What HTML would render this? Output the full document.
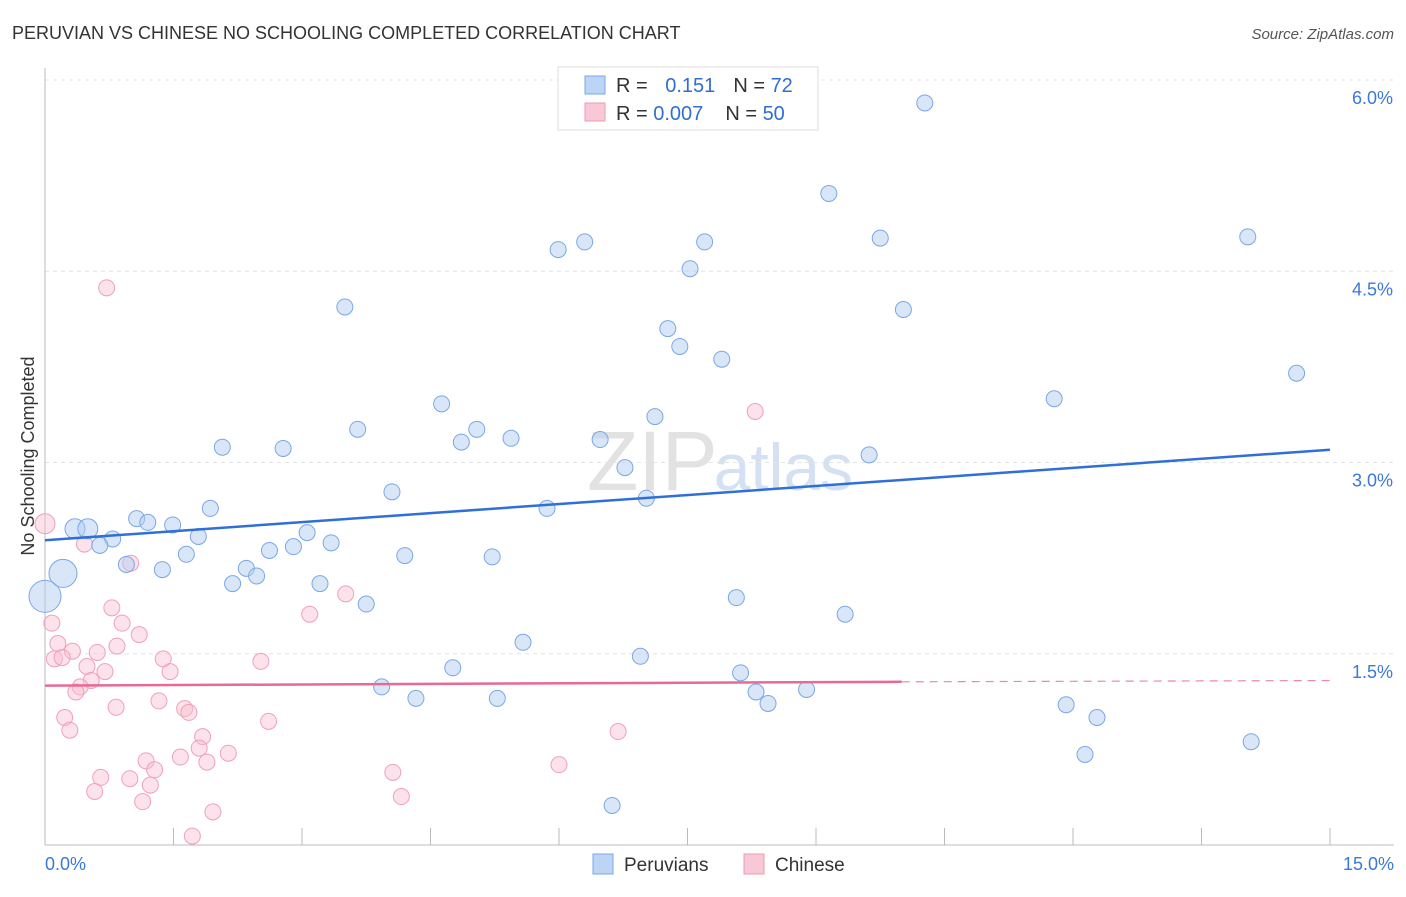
<!DOCTYPE html>
<html><head><meta charset="utf-8"><style>
body{margin:0;background:#fff;font-family:"Liberation Sans",sans-serif;}
svg text{font-family:"Liberation Sans",sans-serif;}
</style></head><body>
<svg id="chart" width="1406" height="892" xmlns="http://www.w3.org/2000/svg">
<text x="12" y="39" font-size="18" fill="#333">PERUVIAN VS CHINESE NO SCHOOLING COMPLETED CORRELATION CHART</text>
<text x="1394" y="39" font-size="15" fill="#555" font-style="italic" text-anchor="end">Source: ZipAtlas.com</text>
<text x="720" y="490" font-size="84" fill="#e2e2e2" font-family="Liberation Serif" text-anchor="middle">ZIP<tspan fill="#d3e1f3" font-family="Liberation Sans" font-size="66" dx="-4">atlas</tspan></text>
<g id="grid"></g><g id="axes"></g><g id="marks"></g>
<text transform="translate(34,456) rotate(-90)" font-size="18" fill="#333" text-anchor="middle">No Schooling Completed</text>
<g>
<rect x="558" y="67" width="260" height="63" fill="#fff" stroke="#ddd"/>
<rect x="585" y="76" width="20" height="18" fill="#bcd4f5" stroke="#7aa7e6"/>
<text x="616" y="92" font-size="20" fill="#333">R = <tspan fill="#2f6fd0" dx="12">0.151</tspan><tspan dx="18">N = </tspan><tspan fill="#2f6fd0">72</tspan></text>
<rect x="585" y="103" width="20" height="18" fill="#f8c8d6" stroke="#ee9ab5"/>
<text x="616" y="120" font-size="20" fill="#333">R = <tspan fill="#2f6fd0">0.007</tspan><tspan dx="22">N = </tspan><tspan fill="#2f6fd0">50</tspan></text>
</g>
<g><rect x="593" y="854" width="20" height="20" fill="#bcd4f5" stroke="#7aa7e6"/><text x="624" y="871" font-size="19" fill="#333">Peruvians</text></g>
<g><rect x="744" y="854" width="20" height="20" fill="#f8c8d6" stroke="#ee9ab5"/><text x="775" y="871" font-size="19" fill="#333">Chinese</text></g>
</svg>
<script>
const yTicks=[1.5,3.0,4.5,6.0];
const xTickLabels=["0.0%","15.0%"];
const bluex=[10.27,9.15,9.75,14.04,5.99,6.30,7.70,7.53,3.50,10.02,7.27,7.41,7.90,14.61,11.78,4.63,7.12,3.65,5.04,4.86,5.44,6.48,2.07,2.78,9.62,6.77,4.05,7.02,5.86,1.93,1.07,1.20,1.49,0.35,0.50,3.06,0.79,1.79,0.64,3.34,2.90,2.62,1.65,4.20,5.22,0.95,1.37,2.35,2.47,0.21,2.19,3.21,0.0,3.75,8.07,9.34,5.58,6.95,4.76,8.12,3.93,8.30,8.89,4.33,5.28,8.44,11.92,12.28,14.08,12.14,6.62];
const bluey=[5.82,5.11,4.76,4.77,4.67,4.73,4.73,4.52,4.22,4.20,4.05,3.91,3.81,3.70,3.50,3.46,3.36,3.26,3.26,3.16,3.19,3.18,3.12,3.11,3.06,2.96,2.77,2.72,2.64,2.64,2.56,2.53,2.51,2.48,2.48,2.45,2.40,2.42,2.35,2.37,2.34,2.31,2.28,2.27,2.26,2.20,2.16,2.17,2.11,2.13,2.05,2.05,1.95,1.89,1.94,1.81,1.59,1.48,1.39,1.35,1.24,1.20,1.22,1.15,1.15,1.11,1.10,1.00,0.81,0.71,0.31];
const bluer=[8,8,8,8,8,8,8,8,8,8,8,8,8,8,8,8,8,8,8,8,8,8,8,8,8,8,8,8,8,8,8,8,8,10,10,8,8,8,8,8,8,8,8,8,8,8,8,8,8,14,8,8,16,8,8,8,8,8,8,8,8,8,8,8,8,8,8,8,8,8,8];
const pinkx=[0.72,8.29,0,0.46,1.00,3.51,0.78,3.09,0.08,0.90,1.10,0.15,0.84,0.32,0.61,0.11,0.20,1.38,2.52,0.49,0.70,1.46,0.54,0.41,0.36,1.33,0.83,1.63,1.68,0.23,2.61,0.29,1.84,6.69,1.80,2.14,1.18,1.58,1.89,6.00,1.28,4.06,0.65,0.99,1.23,0.58,4.16,1.14,1.96,1.72];
const pinky=[4.37,3.40,2.52,2.36,2.21,1.97,1.86,1.81,1.74,1.74,1.65,1.58,1.56,1.52,1.51,1.46,1.47,1.46,1.44,1.40,1.36,1.36,1.29,1.24,1.20,1.13,1.08,1.07,1.04,1.00,0.97,0.90,0.85,0.89,0.76,0.72,0.66,0.69,0.65,0.63,0.59,0.57,0.53,0.52,0.47,0.42,0.38,0.34,0.26,0.07];
const blueLine=[[0,2.39],[15,3.10]];
const pinkLine=[[0,1.25],[10,1.28],[15,1.29]];
const X=v=>45+v*(1285/15), Y=v=>845-v*(765/6);
const NS="http://www.w3.org/2000/svg";
function mk(p,t,a){const e=document.createElementNS(NS,t);for(const k in a)e.setAttribute(k,a[k]);p.appendChild(e);return e;}
const grid=document.getElementById('grid'),axes=document.getElementById('axes'),marks=document.getElementById('marks');
yTicks.forEach(t=>{const l=mk(grid,'line',{x1:45,x2:1394,y1:Y(t),y2:Y(t),stroke:'#e4e4e4','stroke-dasharray':'4,4'});


const tx=mk(axes,'text',{x:1393,y:Y(t)+24,'font-size':18,fill:'#3b78d8','text-anchor':'end'});tx.textContent=t.toFixed(1)+'%';

});
mk(axes,'line',{x1:45,x2:45,y1:68,y2:845,stroke:'#bbb'});
mk(axes,'line',{x1:45,x2:1394,y1:845,y2:845,stroke:'#bbb'});
for(let i=0;i<=10;i++){const t=mk(axes,'line',{x1:X(i*1.5),x2:X(i*1.5),y1:828,y2:845,stroke:'#bbb'});

}
let a=mk(axes,'text',{x:45,y:870,'font-size':18,fill:'#3b78d8'});a.textContent=xTickLabels[0];


a=mk(axes,'text',{x:1394,y:870,'font-size':18,fill:'#3b78d8','text-anchor':'end'});a.textContent=xTickLabels[1];


pinkx.forEach((v,i)=>{const c=mk(marks,'circle',{cx:X(v),cy:Y(pinky[i]),r:i==2?10:8,fill:'rgba(248,190,208,0.45)',stroke:'#f0a0ba','stroke-width':1});

});
bluex.forEach((v,i)=>{const c=mk(marks,'circle',{cx:X(v),cy:Y(bluey[i]),r:bluer[i],fill:'rgba(180,205,242,0.5)',stroke:'#7aa7e6','stroke-width':1});

});
let l=mk(marks,'line',{x1:X(blueLine[0][0]),y1:Y(blueLine[0][1]),x2:X(blueLine[1][0]),y2:Y(blueLine[1][1]),stroke:'#2f6fd8','stroke-width':2.5});


l=mk(marks,'line',{x1:X(pinkLine[0][0]),y1:Y(pinkLine[0][1]),x2:X(pinkLine[1][0]),y2:Y(pinkLine[1][1]),stroke:'#e86a94','stroke-width':2.5});


l=mk(marks,'line',{x1:X(pinkLine[1][0]),y1:Y(pinkLine[1][1]),x2:X(pinkLine[2][0]),y2:Y(pinkLine[2][1]),stroke:'#e86a94','stroke-width':1.2,'stroke-dasharray':'8,6',opacity:0.8});


</script>
</body></html>
